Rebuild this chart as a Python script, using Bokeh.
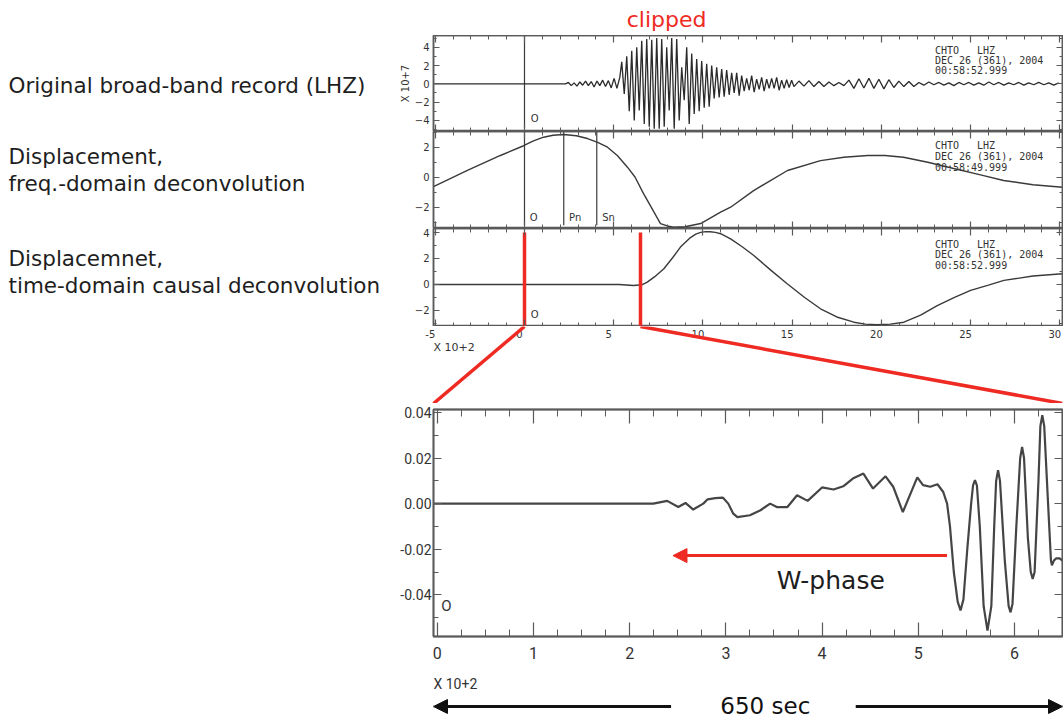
import numpy as np
from bokeh.plotting import figure
from bokeh.models import (Range1d, LinearAxis, SingleIntervalTicker, NumeralTickFormatter,
                          CustomJSTickFormatter, Arrow, NormalHead)
from bokeh.layouts import row, column
from bokeh.core.properties import value
from bokeh.embed import file_html
from bokeh.resources import INLINE

# ------------------------------------------------------------------ data
trace_titles = ["Original broad-band record (LHZ)", "Displacement,",
                "freq.-domain deconvolution", "Displacemnet,",
                "time-domain causal deconvolution"]
clip_note = "clipped"

top_tick_values = [-5, 0, 5, 10, 15, 20, 25, 30]
top_tick_labels = ["-5", "0", "5", "10", "15", "20", "25", "30"]
time_scale_label = "X 10+2"
amp_scale_label = "X 10+7"

NB = "\u00a0"
header_lines = [["CHTO" + NB * 3 + "LHZ", "DEC 26 (361), 2004", "00:58:52.999"],
                ["CHTO" + NB * 3 + "LHZ", "DEC 26 (361), 2004", "00:58:49.999"],
                ["CHTO" + NB * 3 + "LHZ", "DEC 26 (361), 2004", "00:58:52.999"]]

phase_names = ["O", "Pn", "Sn"]
phase_times = [0.0, 2.2, 4.05]            # x10^2 s

window_start = 0.0                         # x10^2 s (origin)
window_end = 6.5                           # x10^2 s (650 s)

# original broad-band record (x10^7), sampled piecewise
raw_flat_t = [-5.1, 2.3]
raw_flat_v = [0.0, 0.0]
raw_pre_v = [0.0, 0.15, -0.2, 0.1, -0.25, 0.2, -0.15, 0.3, -0.2, 0.25,
             -0.35, 0.3, -0.2, 0.4, -0.3, 0.35, -0.45, 0.6, -0.5, 0.7]
raw_main_v = [2.4, -1.1, 3.0, -3.0, 3.6, -4.0, 4.0, -2.9, 4.7, -4.4,
              4.9, -4.7, 4.8, -4.9, 5.0, -4.9, 4.9, -4.7, 4.0, -2.9,
              5.0, -4.9, 4.9, -4.0, 1.8, -1.8, 4.0, -4.4, 3.3, -3.3,
              2.7, -3.0, 2.5, -2.6, 2.2, -2.5, 2.0, -1.6, 1.8, -1.5,
              1.6, -1.4, 1.5, -1.2, 1.2, -1.0]
raw_coda_v = [1.2, -1.3, 0.9, -0.8, 0.6, -0.7, 0.9, -0.9, 0.5, -0.6,
              0.7, -0.8, 0.5, -0.5, 0.6, -0.5, 0.7, -0.7, 0.4, -0.5,
              0.45, -0.4, 0.4]
raw_tail_v = [-0.3, 0.3, -0.25, 0.35, -0.3, 0.25, -0.3,
              0.2, -0.2, 0.15, -0.2,
              0.4, -0.5, 0.55, -0.45, 0.6, -0.5, 0.5, -0.55, 0.45, -0.4,
              0.3, -0.3, 0.25, -0.3,
              0.15, -0.15, 0.2, -0.1, 0.15, -0.15, 0.1, -0.2, 0.15, -0.1,
              0.15, -0.15, 0.1, -0.15, 0.2, -0.1, 0.15, -0.15, 0.1, -0.1,
              0.15, -0.15, 0.1, -0.1, 0.15, -0.1, 0.1, -0.15, 0.1]

# displacement, frequency-domain deconvolution
freq_t = [-5.1, -3.2, -1.35, -0.05, 0.5, 1.07, 1.6, 2.19, 2.9, 3.53,
          4.1, 4.65, 5.2, 5.77, 6.2, 6.67, 7.1, 7.62, 8.0, 8.35,
          9.0, 9.87, 10.99, 11.55, 12.84, 14.74, 16.59, 17.9, 19.23, 20.2,
          21.24, 22.6, 24.05, 25.5, 26.85, 28.5, 30.15]
freq_v = [-0.62, 0.45, 1.45, 2.1, 2.42, 2.67, 2.8, 2.85, 2.77, 2.58,
          2.33, 2.0, 1.45, 0.67, 0.0, -1.09, -2.0, -3.09, -3.25, -3.33,
          -3.3, -3.09, -2.33, -2.0, -0.89, 0.45, 1.11, 1.33, 1.45, 1.45,
          1.33, 1.0, 0.58, 0.17, -0.22, -0.5, -0.67]

# displacement, time-domain causal deconvolution
causal_t = [-5.1, 5.3, 6.1, 6.6, 6.88, 7.3, 7.81, 8.3, 8.74, 9.3,
            9.6, 9.87, 10.15, 10.4, 10.7, 10.99, 11.55, 12.2, 12.85, 13.8,
            14.72, 15.7, 16.59, 17.5, 18.46, 19.1, 19.77, 20.5, 21.26, 22.2,
            23.13, 24.1, 25.0, 26.0, 26.87, 28.5, 30.15]
causal_v = [0.0, 0.0, -0.08, -0.02, 0.18, 0.6, 1.21, 2.05, 2.87, 3.6,
            3.87, 4.0, 4.06, 4.05, 4.0, 3.9, 3.5, 2.9, 2.23, 1.1,
            0.05, -1.0, -1.87, -2.5, -2.9, -3.05, -3.1, -3.05, -2.9, -2.35,
            -1.62, -1.0, -0.46, -0.05, 0.31, 0.65, 0.82]

# zoom of the first 650 s (x10^2 s, displacement)
zoom_t = [-0.04, 2.245, 2.39, 2.505, 2.58, 2.66, 2.765, 2.81, 2.89, 2.97,
          3.025, 3.077, 3.12, 3.25, 3.36, 3.46, 3.53, 3.64, 3.74, 3.85,
          4.0, 4.12, 4.22, 4.32, 4.43, 4.53, 4.66, 4.74, 4.84, 4.99,
          5.05, 5.125, 5.2, 5.26, 5.3, 5.33, 5.37, 5.41, 5.44, 5.47,
          5.51, 5.55, 5.57, 5.59, 5.61, 5.64, 5.68, 5.72, 5.76, 5.79,
          5.81, 5.83, 5.85, 5.9, 5.94, 5.96, 5.98, 6.02, 6.06, 6.08,
          6.1, 6.14, 6.17, 6.19, 6.21, 6.25, 6.27, 6.29, 6.31, 6.35,
          6.38, 6.39, 6.41, 6.435, 6.47, 6.5]
zoom_v = [0.0, 0.0, 0.0012, -0.0015, 0.0003, -0.0026, 0.0, 0.0019, 0.0024, 0.0026,
          0.0, -0.0044, -0.0059, -0.0051, -0.0029, 0.0, -0.0015, -0.0015, 0.0037, 0.0012,
          0.0071, 0.0062, 0.0076, 0.011, 0.0132, 0.0066, 0.012, 0.0074, -0.0037, 0.0115,
          0.0081, 0.0074, 0.0085, 0.0051, 0.0, -0.01, -0.03, -0.043, -0.0469, -0.042,
          -0.02, 0.0, 0.008, 0.0103, 0.008, -0.01, -0.045, -0.0557, -0.045, -0.01,
          0.01, 0.0147, 0.01, -0.025, -0.045, -0.0477, -0.044, -0.01, 0.02, 0.0249,
          0.02, -0.015, -0.03, -0.033, -0.03, 0.01, 0.034, 0.0388, 0.034, 0.0,
          -0.025, -0.0271, -0.025, -0.024, -0.024, -0.025]

wphase_label = "W-phase"
wphase_from, wphase_to, wphase_level = 5.3, 2.45, -0.0228
span_label = "650 sec"
zoom_origin_label = "O"

# sample grids of the broad-band record
raw_t = np.concatenate([raw_flat_t,
                        2.3 + 0.16 * np.arange(len(raw_pre_v)),
                        5.45 + 0.14 * np.arange(len(raw_main_v)),
                        11.89 + 0.14 * np.arange(len(raw_coda_v)),
                        15.1 + 0.28 * np.arange(len(raw_tail_v))])
raw_v = np.concatenate([raw_flat_v, raw_pre_v, raw_main_v, raw_coda_v, raw_tail_v])

# ------------------------------------------------------------------ style
RED = "#ee2a23"
INK = "#3a3a3a"
FRAME = "#5a5a5a"
TXT = "#1e1e1e"
SANS = "DejaVu Sans"
MONO = "DejaVu Sans Mono"
NARROW = "Roboto"

TOTAL_H = 721
LEFT_W = 388
RIGHT_W = 675
PAD_L = 45


def bare(width, height, xr, yr, ml=0, mr=0, mt=0, mb=0):
    p = figure(width=width, height=height, x_range=xr, y_range=yr,
               x_axis_location=None, y_axis_location=None,
               toolbar_location=None, output_backend="svg",
               min_border_left=ml, min_border_right=mr,
               min_border_top=mt, min_border_bottom=mb)
    p.frame_align = False
    p.grid.visible = False
    p.outline_line_color = None
    p.background_fill_color = "white"
    p.border_fill_color = "white"
    return p


def axis(p, side, ticker, t_in, m_in, labels=False, font=SANS, size="10px",
         standoff=4, fmt=None):
    ax = LinearAxis(ticker=ticker)
    ax.axis_line_color = FRAME
    ax.axis_line_width = 1.5
    ax.major_tick_line_color = FRAME
    ax.minor_tick_line_color = FRAME
    ax.major_tick_line_width = 1.2
    ax.major_tick_in = t_in
    ax.major_tick_out = 0
    ax.minor_tick_in = m_in
    ax.minor_tick_out = 0
    if labels:
        if fmt is not None:
            ax.formatter = fmt
        ax.major_label_text_font = font
        ax.major_label_text_font_size = size
        ax.major_label_text_color = "#333333"
        ax.major_label_standoff = standoff
    else:
        ax.formatter = CustomJSTickFormatter(code="return ''")
        ax.major_label_text_font_size = "0px"
        ax.major_label_standoff = 0
    p.add_layout(ax, side)
    return ax


# ------------------------------------------------------------------ left titles
left = bare(LEFT_W, TOTAL_H, Range1d(0, LEFT_W), Range1d(TOTAL_H, 0))
left.text(x=[8] * 5, y=[85.3, 155.8, 182.7, 257.5, 284.5], text=trace_titles,
          text_font=value(SANS), text_font_size="21.5px", text_color=TXT,
          text_align="left", text_baseline="middle")

# ------------------------------------------------------------------ top panels
xr_top = Range1d(-5.1, 30.15)

fclip = bare(RIGHT_W, 35, xr_top, Range1d(35, 0), PAD_L, 1, 0, 0)
fclip.text(x=[7.96], y=[19], text=[clip_note], text_font=value(SANS),
           text_font_size="22px", text_color=RED, text_align="center",
           text_baseline="middle")


def seismo_panel(h, ylo, yhi):
    p = bare(RIGHT_W, h, xr_top, Range1d(ylo, yhi), PAD_L, 1, 0, 0)
    p.outline_line_color = FRAME
    p.outline_line_width = 1.5
    yt = SingleIntervalTicker(interval=2, num_minor_ticks=2)
    xt = SingleIntervalTicker(interval=5, num_minor_ticks=5)
    ly = axis(p, "left", yt, 6, 3, labels=True, size="10px", standoff=4)
    axis(p, "right", yt, 6, 3)
    axis(p, "above", xt, 7, 4)
    axis(p, "below", xt, 7, 4)
    return p, ly


def header(p, ys, lines):
    p.text(x=[23.0] * len(lines), y=ys, text=lines, text_font=value(MONO),
           text_font_size="10px", text_color="#333333", text_align="left",
           text_baseline="middle")


p1, ly1 = seismo_panel(96, -5.21, 5.28)
ly1.axis_label = amp_scale_label
ly1.axis_label_text_font_size = "10px"
ly1.axis_label_text_font_style = "normal"
ly1.axis_label_text_font = SANS
ly1.axis_label_text_color = "#333333"
ly1.axis_label_standoff = 1
p1.segment(x0=[phase_times[0]], y0=[5.28], x1=[phase_times[0]], y1=[-4.85],
           line_color=INK, line_width=1.2)
p1.text(x=[phase_times[0] + 0.35], y=[-3.78], text=[phase_names[0]],
        text_font=value(SANS), text_font_size="10px", text_color="#333333",
        text_align="left", text_baseline="middle")
p1.line(raw_t, raw_v, line_color="#2a2a2a", line_width=1.3)
header(p1, [3.65, 2.56, 1.46], header_lines[0])

p2, _ = seismo_panel(97, -3.42, 3.05)
p2.segment(x0=phase_times, y0=[3.05] * 3, x1=phase_times, y1=[-3.2] * 3,
           line_color=INK, line_width=1.2)
p2.text(x=[t + 0.3 for t in phase_times], y=[-2.7] * 3, text=phase_names,
        text_font=value(SANS), text_font_size="10px", text_color="#333333",
        text_align="left", text_baseline="middle")
p2.line(freq_t, freq_v, line_color=INK, line_width=1.4)
header(p2, [2.11, 1.38, 0.65], header_lines[1])

p3, _ = seismo_panel(98, -3.23, 4.3)
p3.text(x=[phase_times[0] + 0.35], y=[-2.3], text=[phase_names[0]],
        text_font=value(SANS), text_font_size="10px", text_color="#333333",
        text_align="left", text_baseline="middle")
p3.line(causal_t, causal_v, line_color=INK, line_width=1.4)
header(p3, [3.08, 2.27, 1.42], header_lines[2])
p3.segment(x0=[window_start, window_end], y0=[4.0, 4.0],
           x1=[window_start, window_end], y1=[-3.23, -3.23],
           line_color=RED, line_width=3.5)

# ------------------------------------------------------------------ connector
CONN_H = 77
ppu = (RIGHT_W - PAD_L - 1) / (xr_top.end - xr_top.start)
conn = bare(RIGHT_W, CONN_H, Range1d(xr_top.start - PAD_L / ppu, xr_top.end),
            Range1d(CONN_H, 0), 0, 1, 0, 0)
conn.text(x=top_tick_values, y=[7] * len(top_tick_values), text=top_tick_labels,
          text_font=value(SANS), text_font_size="10px", text_color="#333333",
          text_align="center", text_baseline="middle", x_offset=-5)
conn.text(x=[xr_top.start], y=[21], text=[time_scale_label],
          text_font=value(SANS), text_font_size="11px", text_color="#333333",
          text_align="left", text_baseline="middle")
conn.segment(x0=[window_start, window_end], y0=[0, 0],
             x1=[xr_top.start, xr_top.end], y1=[CONN_H, CONN_H],
             line_color=RED, line_width=3.5)

# ------------------------------------------------------------------ zoom panel
xr_bot = Range1d(-0.04, 6.5)
pb = bare(RIGHT_W, 269, xr_bot, Range1d(-0.0583, 0.0413), PAD_L, 1, 6, 36)
pb.outline_line_color = FRAME
pb.outline_line_width = 1.8
yt_b = SingleIntervalTicker(interval=0.02, num_minor_ticks=2)
xt_b = SingleIntervalTicker(interval=1, num_minor_ticks=4)
axis(pb, "left", yt_b, 8, 5, labels=True, font=NARROW, size="14px", standoff=2,
     fmt=NumeralTickFormatter(format="0.00"))
axis(pb, "right", yt_b, 8, 5)
axis(pb, "above", xt_b, 14, 7)
axis(pb, "below", xt_b, 14, 7, labels=True, font=NARROW, size="16px", standoff=10)
pb.line(zoom_t, zoom_v, line_color="#454545", line_width=2.2)
pb.text(x=[0.04], y=[-0.0447], text=[zoom_origin_label], text_font=value(NARROW),
        text_font_size="15px", text_color="#333333", text_align="left",
        text_baseline="middle")
pb.add_layout(Arrow(end=NormalHead(size=14, fill_color=RED, line_color=RED),
                    x_start=wphase_from, y_start=wphase_level,
                    x_end=wphase_to, y_end=wphase_level,
                    line_color=RED, line_width=3))
pb.text(x=[4.09], y=[-0.0337], text=[wphase_label], text_font=value(SANS),
        text_font_size="25px", text_color=TXT, text_align="center",
        text_baseline="middle")

# ------------------------------------------------------------------ footer
FOOT_H = 49
foot = bare(RIGHT_W, FOOT_H, xr_bot, Range1d(FOOT_H, 0), PAD_L, 1, 0, 0)
foot.text(x=[xr_bot.start], y=[11], text=[time_scale_label], text_font=value(NARROW),
          text_font_size="14px", text_color="#333333", text_align="left",
          text_baseline="middle")
foot.text(x=[3.41], y=[33], text=[span_label], text_font=value(SANS),
          text_font_size="23px", text_color="#111111", text_align="center",
          text_baseline="middle")
for x_from, x_to in [(2.43, xr_bot.start), (4.35, xr_bot.end)]:
    foot.add_layout(Arrow(end=NormalHead(size=14, fill_color="#111111", line_color="#111111"),
                          x_start=x_from, y_start=34, x_end=x_to, y_end=34,
                          line_color="#111111", line_width=3))

layout = row(left, column(fclip, p1, p2, p3, conn, pb, foot))
open("out.html", "w").write(file_html(layout, INLINE))
